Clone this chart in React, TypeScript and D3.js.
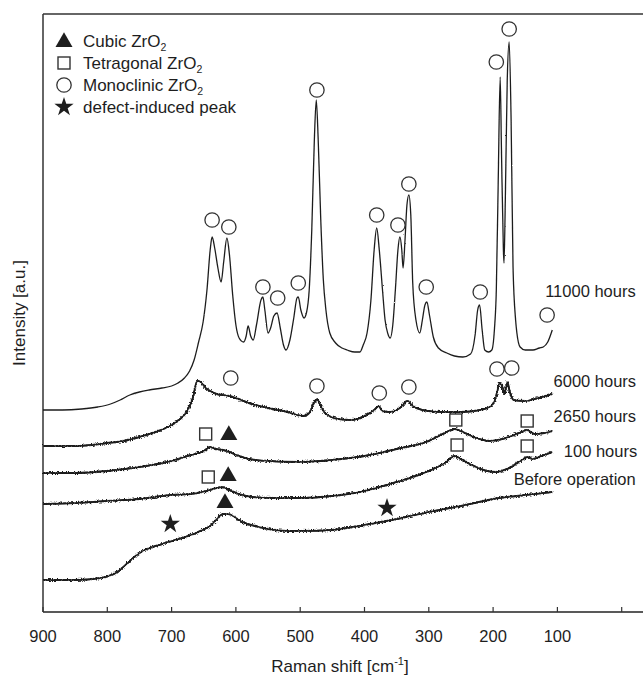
import React from "react";
import * as d3 from "d3";

// Raman shift (cm^-1) vs. intensity (a.u.), one array per operating time
const spectrum11000: [number, number][] = [
  [900, 202], [870, 202], [840, 203], [815, 205], [795, 208], [780, 212], [765, 217],
  [750, 220], [735, 222], [715, 224], [700, 226], [690, 229], [680, 234], [672, 241],
  [665, 252], [658, 270], [651, 290], [645, 322], [640, 362], [637, 375], [633, 364],
  [628, 344], [623, 330], [619, 350], [614, 374], [610, 357], [605, 317], [600, 287],
  [595, 274], [588, 270], [584, 276], [581, 286], [577, 276], [573, 272], [568, 287],
  [561, 312], [558, 315], [555, 302], [550, 279], [546, 284], [541, 296], [536, 299],
  [531, 284], [526, 267], [522, 262], [516, 272], [510, 294], [505, 314], [503, 315],
  [499, 302], [494, 294], [490, 300], [486, 322], [482, 382], [478, 472], [475, 512],
  [472, 472], [468, 392], [464, 332], [460, 302], [454, 279], [445, 269], [435, 264],
  [427, 262], [415, 260], [407, 260], [402, 267], [396, 279], [390, 312], [385, 362],
  [381, 384], [377, 362], [372, 322], [368, 292], [364, 279], [360, 274], [356, 287],
  [352, 322], [348, 362], [345, 375], [342, 362], [340, 344], [337, 372], [334, 407],
  [331, 417], [328, 397], [325, 329], [320, 292], [314, 279], [310, 292], [306, 307],
  [303, 310], [299, 297], [293, 275], [285, 264], [272, 259], [260, 256], [247, 255],
  [235, 258], [228, 277], [224, 302], [221, 307], [217, 282], [213, 262], [207, 260],
  [202, 262], [198, 282], [195, 322], [192, 432], [189, 535], [187, 462], [184, 362],
  [183, 349], [181, 412], [178, 532], [175, 570], [172, 492], [169, 345], [165, 292],
  [163, 279], [158, 265], [150, 262], [138, 262], [128, 264], [122, 265], [115, 270],
  [108, 282],
];

const spectrum6000: [number, number][] = [
  [900, 166], [850, 166], [800, 169], [775, 171], [750, 175], [725, 180], [700, 187],
  [685, 194], [675, 202], [667, 214], [660, 231], [655, 230], [645, 223], [630, 218],
  [610, 216], [600, 214], [580, 209], [550, 204], [520, 200], [495, 196], [485, 200],
  [478, 210], [474, 213], [469, 207], [460, 198], [440, 193], [420, 192], [400, 196],
  [385, 202], [378, 206], [372, 201], [360, 200], [345, 204], [333, 211], [325, 206],
  [310, 202], [280, 200], [250, 200], [220, 202], [205, 205], [196, 214], [190, 229],
  [185, 224], [182, 218], [178, 230], [174, 220], [168, 212], [150, 211], [130, 214],
  [108, 218],
];

const spectrum2650: [number, number][] = [
  [900, 139], [850, 139], [800, 141], [750, 145], [700, 151], [670, 157], [650, 161],
  [640, 165], [632, 163], [620, 162], [610, 160], [595, 156], [580, 153], [550, 151],
  [500, 150], [450, 152], [400, 156], [350, 163], [300, 171], [275, 179], [260, 183],
  [250, 181], [230, 175], [205, 171], [180, 174], [160, 179], [148, 182], [135, 178],
  [120, 179], [108, 181],
];

const spectrum100: [number, number][] = [
  [900, 108], [850, 109], [800, 111], [750, 113], [700, 117], [670, 118], [645, 121],
  [630, 124], [622, 125], [610, 122], [595, 118], [575, 115], [540, 114], [500, 114],
  [450, 116], [400, 121], [350, 130], [300, 141], [275, 149], [260, 156], [250, 153],
  [230, 146], [210, 141], [195, 140], [175, 144], [155, 152], [147, 155], [138, 153],
  [125, 156], [108, 160],
];

const spectrumBefore: [number, number][] = [
  [900, 32], [850, 32], [810, 34], [790, 38], [775, 45], [760, 54], [745, 61],
  [725, 66], [700, 71], [675, 76], [655, 81], [640, 86], [628, 94], [620, 98],
  [612, 98], [600, 94], [590, 90], [570, 86], [550, 83], [520, 81], [500, 81],
  [450, 82], [400, 87], [350, 93], [300, 100], [250, 106], [200, 113], [150, 117],
  [108, 120],
];

const seriesLabels = ["11000 hours", "6000 hours", "2650 hours", "100 hours", "Before operation"];
// label anchor: [shift, intensity]
const labelAnchors: [number, number][] = [
  [119, 319], [106, 229], [106, 194], [90, 159], [168, 131],
];

// Phase assignments placed above the bands
const cubicMarks: [number, number][] = [[611, 178], [612, 137], [617, 110]];
const tetragonalMarks: [number, number][] = [
  [647, 178], [258, 192], [147, 191],
  [643, 135], [256, 167], [147, 166],
];
const monoclinicMarks: [number, number][] = [
  [637, 392], [611, 385], [558, 325], [535, 314], [503, 329], [474, 522], [381, 397],
  [348, 387], [331, 428], [304, 325], [220, 320], [195, 550], [175, 583], [116, 297],
  [608, 234], [474, 226], [377, 219], [331, 225], [194, 243], [171, 244],
];
const defectMarks: [number, number][] = [[702, 88], [365, 104]];

const xTicks = [900, 800, 700, 600, 500, 400, 300, 200, 100, 0];
const xTickLabels = ["900", "800", "700", "600", "500", "400", "300", "200", "100", ""];

const W = 643;
const H = 682;
const left = 43;
const top = 14;
const bottom = 612;
const FONT = "'Liberation Sans', Arial, Helvetica, sans-serif";
const INK = "#1e1e1e";

const x = d3.scaleLinear().domain([900, 0]).range([left, left + 900 * 0.643]);
const y = d3.scaleLinear().domain([0, bottom - top]).range([bottom, top]);

const line = d3
  .line<[number, number]>()
  .x((d) => x(d[0]))
  .y((d) => y(d[1]))
  .curve(d3.curveMonotoneX);

const triPath = d3.symbol(d3.symbolTriangle, 125)()!;
const starPath = d3.symbol(d3.symbolStar, 115)()!;

function Triangle({ cx, cy }: { cx: number; cy: number }) {
  return <path d={triPath} transform={`translate(${cx},${cy + 1})`} fill={INK} />;
}
function Square({ cx, cy }: { cx: number; cy: number }) {
  return (
    <rect x={cx - 6} y={cy - 6} width={12} height={12} fill="#fff" stroke="#333" strokeWidth={1.4} />
  );
}
function Circle({ cx, cy }: { cx: number; cy: number }) {
  return <circle cx={cx} cy={cy} r={7.2} fill="#fff" stroke="#333" strokeWidth={1.3} />;
}
function Star({ cx, cy }: { cx: number; cy: number }) {
  return <path d={starPath} transform={`translate(${cx},${cy})`} fill={INK} />;
}

const legendRows = [
  { kind: "tri", text: "Cubic ZrO", sub: "2" },
  { kind: "sq", text: "Tetragonal ZrO", sub: "2" },
  { kind: "ci", text: "Monoclinic ZrO", sub: "2" },
  { kind: "st", text: "defect-induced peak", sub: "" },
];

export default function App() {
  const noisy = [spectrum6000, spectrum2650, spectrum100, spectrumBefore];
  return (
    <svg width={W} height={H} style={{ display: "block", position: "absolute", left: 0, top: 0 }}>
      <defs>
        <filter id="grain" filterUnits="userSpaceOnUse" x={0} y={0} width={W} height={H}>
          <feTurbulence type="fractalNoise" baseFrequency="0.8" numOctaves={2} seed={4} result="n" />
          <feDisplacementMap in="SourceGraphic" in2="n" scale={4.5} xChannelSelector="R" yChannelSelector="G" />
        </filter>
        <filter id="grainLight" filterUnits="userSpaceOnUse" x={0} y={0} width={W} height={H}>
          <feTurbulence type="fractalNoise" baseFrequency="0.9" numOctaves={1} seed={7} result="n" />
          <feDisplacementMap in="SourceGraphic" in2="n" scale={1.8} xChannelSelector="R" yChannelSelector="G" />
        </filter>
      </defs>
      <rect width={W} height={H} fill="#fff" />

      {/* frame */}
      <line x1={left} x2={W} y1={top} y2={top} stroke="#333" strokeWidth={1.5} />
      <line x1={left} x2={left} y1={top} y2={bottom} stroke="#333" strokeWidth={1.5} />
      <line x1={left} x2={W} y1={bottom} y2={bottom} stroke="#222" strokeWidth={1.6} />

      {xTicks.map((t, i) => (
        <g key={t}>
          <line x1={x(t)} x2={x(t)} y1={bottom} y2={bottom - 5} stroke="#333" strokeWidth={1.2} />
          <text x={x(t)} y={642} textAnchor="middle" fontFamily={FONT} fontSize={16.5} fill={INK}>
            {xTickLabels[i]}
          </text>
        </g>
      ))}

      <text x={340} y={672} textAnchor="middle" fontFamily={FONT} fontSize={17} fill={INK}>
        Raman shift [cm
        <tspan dy={-7} fontSize={11}>-1</tspan>
        <tspan dy={7}>]</tspan>
      </text>
      <text
        transform={`translate(25,${(top + bottom) / 2}) rotate(-90)`}
        textAnchor="middle"
        fontFamily={FONT}
        fontSize={17}
        fill={INK}
      >
        Intensity [a.u.]
      </text>

      {/* spectra */}
      <path d={line(spectrum11000)!} fill="none" stroke={INK} strokeWidth={1.3} filter="url(#grainLight)" />
      {noisy.map((s, i) => (
        <g key={i}>
          <path d={line(s)!} fill="none" stroke={INK} strokeWidth={1.4} />
          <path d={line(s)!} fill="none" stroke={INK} strokeWidth={2} filter="url(#grain)" />
        </g>
      ))}

      {/* band assignments */}
      {cubicMarks.map((m, i) => <Triangle key={`c${i}`} cx={x(m[0])} cy={y(m[1])} />)}
      {tetragonalMarks.map((m, i) => <Square key={`t${i}`} cx={x(m[0])} cy={y(m[1])} />)}
      {monoclinicMarks.map((m, i) => <Circle key={`m${i}`} cx={x(m[0])} cy={y(m[1])} />)}
      {defectMarks.map((m, i) => <Star key={`d${i}`} cx={x(m[0])} cy={y(m[1])} />)}

      {seriesLabels.map((l, i) => (
        <text
          key={l}
          x={x(labelAnchors[i][0])}
          y={y(labelAnchors[i][1])}
          dominantBaseline="middle"
          fontFamily={FONT}
          fontSize={16.5}
          fill={INK}
        >
          {l}
        </text>
      ))}

      {/* legend */}
      {legendRows.map((r, i) => {
        const cy = 41 + i * 22;
        return (
          <g key={r.text}>
            {r.kind === "tri" && <Triangle cx={64} cy={cy} />}
            {r.kind === "sq" && <Square cx={64} cy={cy} />}
            {r.kind === "ci" && <Circle cx={64} cy={cy} />}
            {r.kind === "st" && <Star cx={64} cy={cy} />}
            <text x={83} y={cy + 6} fontFamily={FONT} fontSize={17} fill={INK}>
              {r.text}
              {r.sub && (
                <tspan dy={4} fontSize={10.5}>
                  {r.sub}
                </tspan>
              )}
            </text>
          </g>
        );
      })}
    </svg>
  );
}
